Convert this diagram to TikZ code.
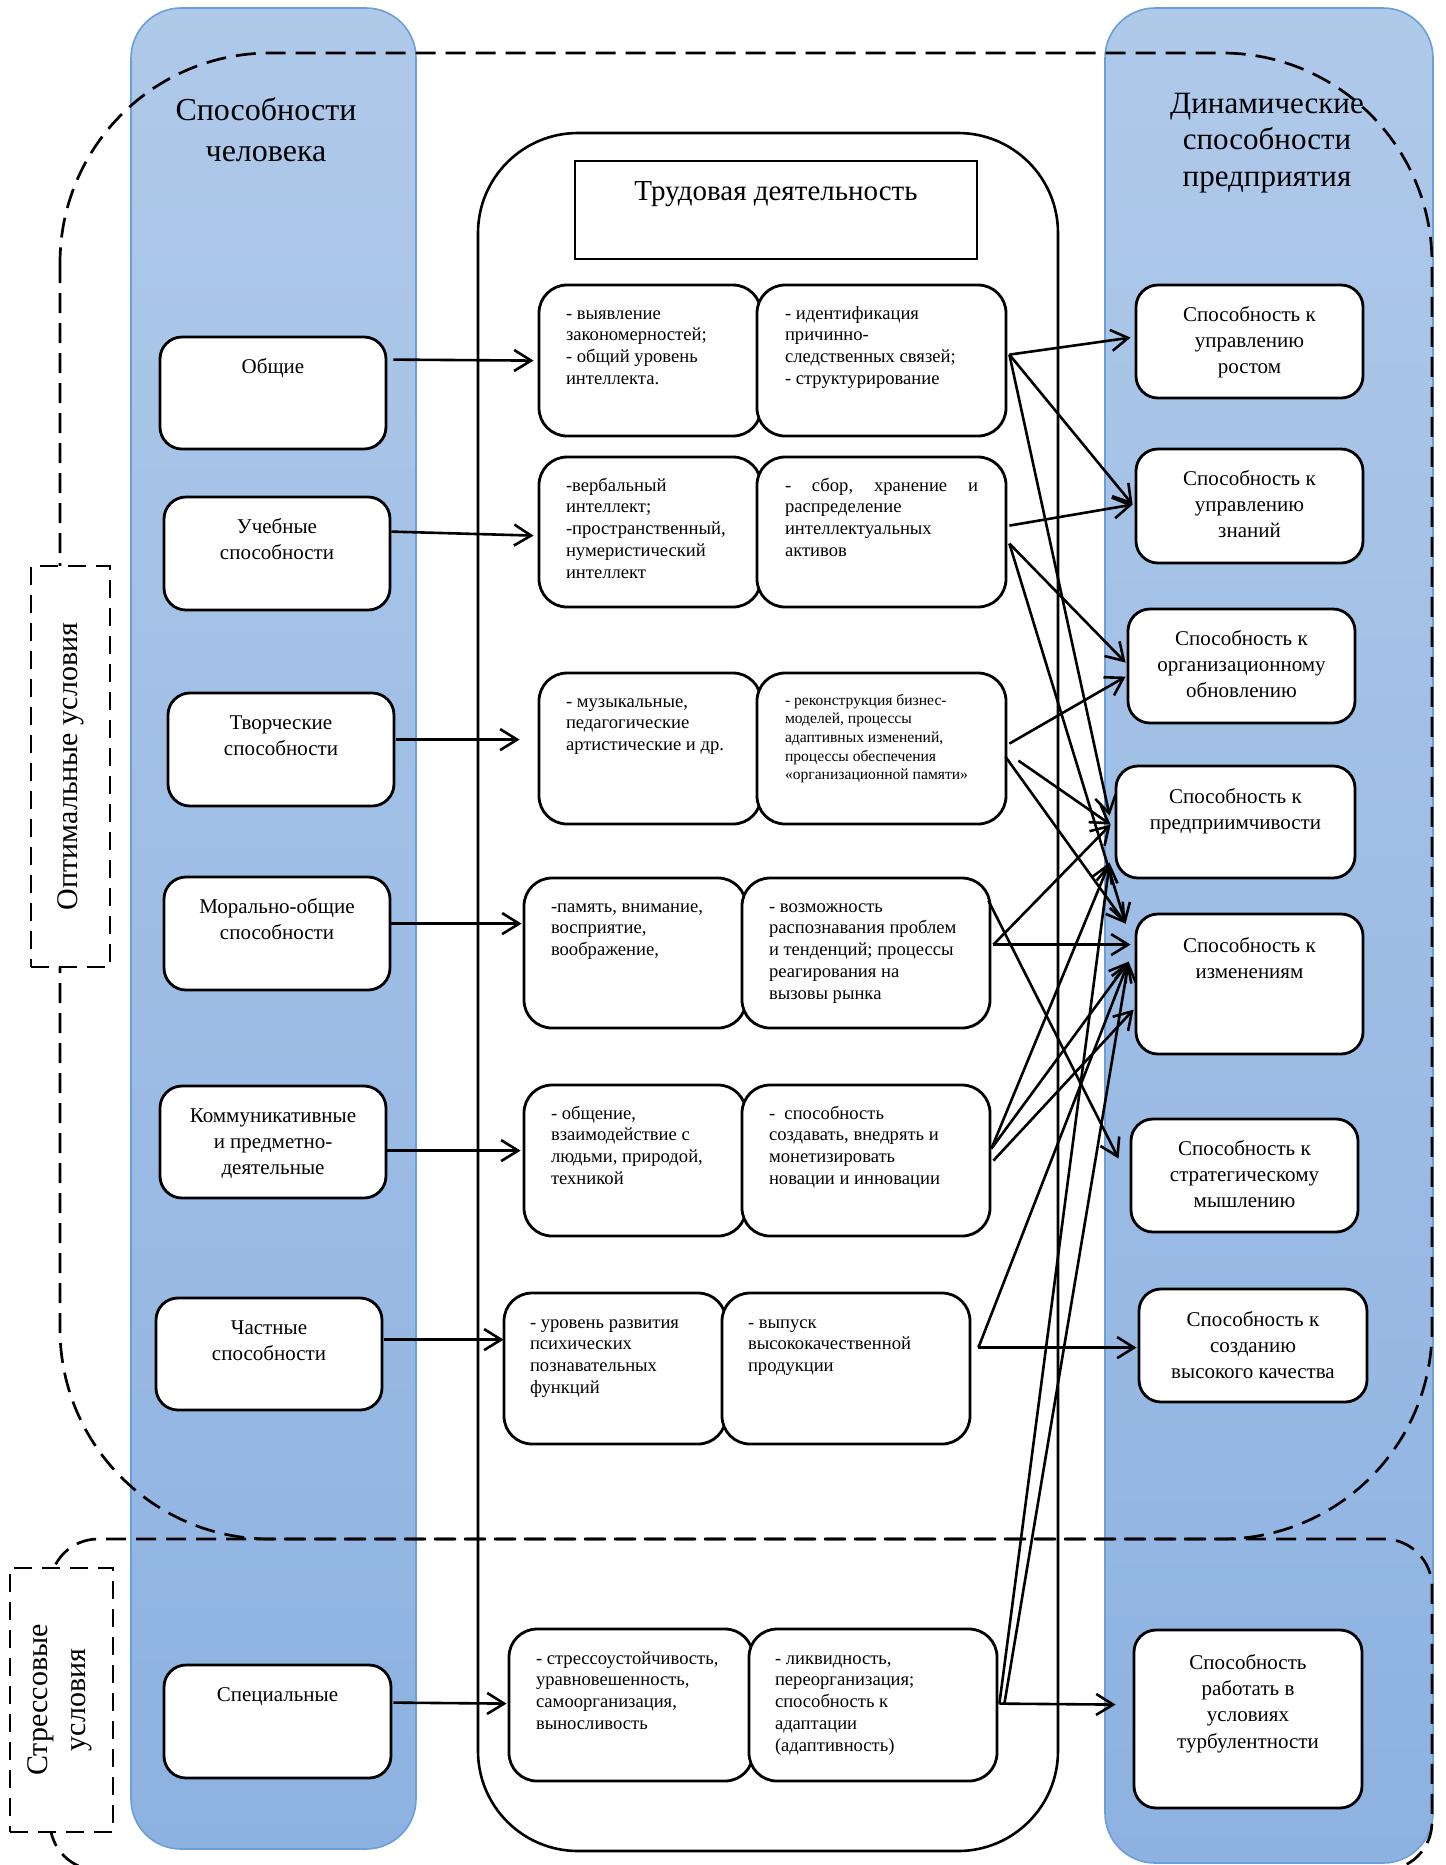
\documentclass[tikz,border=0pt]{standalone}
\usepackage{fontspec}
\setmainfont{Liberation Serif}
\usetikzlibrary{arrows.meta,calc,fit}

\definecolor{colTop}{HTML}{AFC9E9}
\definecolor{colBot}{HTML}{8DB2E1}
\definecolor{colEdge}{HTML}{6A9FD8}

% font sizes
\newcommand{\fLbl}{\fontsize{10.5}{13.2}\selectfont}
\newcommand{\fItm}{\fontsize{9.3}{10.9}\selectfont}
\newcommand{\fSml}{\fontsize{7.8}{9.35}\selectfont}
\newcommand{\fHdr}{\fontsize{16}{20.5}\selectfont}
\newcommand{\fDyn}{\fontsize{15.5}{18.3}\selectfont}
\newcommand{\fTrud}{\fontsize{14.5}{17}\selectfont}
\newcommand{\fCond}{\fontsize{15}{19}\selectfont}

% text blocks whose baseline is the first line
\newcommand{\ctr}[2]{\parbox[t]{#1}{\centering #2}}
\newcommand{\lft}[2]{\parbox[t]{#1}{\raggedright #2}}

\begin{document}
\begin{tikzpicture}[x=0.5pt,y=-0.5pt,
  column/.style={top color=colTop, bottom color=colBot, draw=colEdge, line width=0.8pt,
                 rounded corners=25pt, inner sep=0pt},
  capbox/.style={draw, fill=white, line width=1.4pt, rounded corners=11pt, inner sep=0pt},
  itembox/.style={draw, fill=white, line width=1.4pt, rounded corners=14pt, inner sep=0pt},
  condline/.style={line width=1.35pt, dash pattern=on 10pt off 5pt},
  condbox/.style={draw, fill=white, line width=1.35pt, dash pattern=on 9pt off 5pt, inner sep=0pt},
  captext/.style={anchor=base, inner sep=0pt, font=\fLbl, yshift=-1.2pt},
  itext/.style={anchor=base west, inner sep=0pt, font=\fItm, yshift=-1.2pt},
  conn/.style={line width=1.3pt, -{Straight Barb[length=8.5pt,width=10.5pt]}}]

\useasboundingbox (0,0) rectangle (1446,1865);

% ---------- the two blue columns ----------
\node[column, fit={(131,8) (416,1849)}] (humancol) {};
\node[column, fit={(1105,8) (1433,1863)}] (firmcol) {};
\node[anchor=base, inner sep=0pt, font=\fHdr] at (266,120) {\ctr{150pt}{Способности\\человека}};
\node[anchor=base, inner sep=0pt, font=\fDyn] at (1267,113) {\ctr{150pt}{Динамические\\способности\\предприятия}};

% ---------- labour activity container ----------
\node[draw, line width=1.3pt, rounded corners=50pt, inner sep=0pt, fit={(478,133) (1058,1851)}] (work) {};
\node[draw, line width=1.3pt, inner sep=0pt, fit={(575,161) (977,259)}] (workhead) {};
\node[anchor=base, inner sep=0pt, font=\fTrud] at ($(workhead.north)+(0,41)$) {Трудовая деятельность};

% ---------- condition regions ----------
\draw[condline, rounded corners=105pt] (60,53) rectangle (1432,1539);
\draw[condline, rounded corners=24pt] (50,1539) rectangle (1432,1870);
\node[condbox, fit={(31,566) (110,967)}] (optlabel) {};
\node[rotate=90, inner sep=0pt, font=\fCond] at (optlabel.center) {Оптимальные условия};
\node[condbox, fit={(10,1568) (113,1832)}] (strlabel) {};
\node[rotate=90, inner sep=0pt, font=\fCond, align=center] at ($(strlabel.center)+(-2,0)$) {Стрессовые\\условия};

% ---------- human abilities ----------
\node[capbox, fit={(160,337) (386,449)}] (g1) {};
\node[captext] at ($(g1.north)+(0,35)$) {Общие};
\node[capbox, fit={(164,497) (390,610)}] (g2) {};
\node[captext] at ($(g2.north)+(0,35)$) {\ctr{110pt}{Учебные\\способности}};
\node[capbox, fit={(168,693) (394,806)}] (g3) {};
\node[captext] at ($(g3.north)+(0,35)$) {\ctr{110pt}{Творческие\\способности}};
\node[capbox, fit={(164,877) (390,990)}] (g4) {};
\node[captext] at ($(g4.north)+(0,35)$) {\ctr{110pt}{Морально-общие\\способности}};
\node[capbox, fit={(160,1086) (386,1198)}] (g5) {};
\node[captext] at ($(g5.north)+(0,35)$) {\ctr{110pt}{Коммуникативные\\и предметно-\\деятельные}};
\node[capbox, fit={(156,1298) (382,1410)}] (g6) {};
\node[captext] at ($(g6.north)+(0,35)$) {\ctr{110pt}{Частные\\способности}};
\node[capbox, fit={(164,1665) (391,1778)}] (g7) {};
\node[captext] at ($(g7.north)+(0,35)$) {Специальные};

% ---------- labour activity rows ----------
\node[itembox, fit={(539,285) (761,436)}] (m1l) {};
\node[itembox, fit={(757,285) (1006,436)}] (m1r) {};
\node[itext] at ($(m1l.north west)+(28,33)$) {\lft{105pt}{- выявление\\закономерностей;\\- общий уровень\\интеллекта.}};
\node[itext] at ($(m1r.north west)+(29,33)$) {\lft{105pt}{- идентификация\\причинно-\\следственных связей;\\- структурирование}};

\node[itembox, fit={(539,457) (761,607)}] (m2l) {};
\node[itembox, fit={(757,457) (1006,607)}] (m2r) {};
\node[itext] at ($(m2l.north west)+(28,33)$) {\lft{105pt}{-вербальный\\интеллект;\\-пространственный,\\нумеристический\\интеллект}};
\node[itext] at ($(m2r.north west)+(29,33)$) {\lft{96.5pt}{-\hfill сбор,\hfill хранение\hfill и\\распределение\\интеллектуальных\\активов}};

\node[itembox, fit={(539,673) (761,824)}] (m3l) {};
\node[itembox, fit={(757,673) (1006,824)}] (m3r) {};
\node[itext] at ($(m3l.north west)+(28,33)$) {\lft{105pt}{- музыкальные,\\педагогические\\артистические и др.}};
\node[itext, font=\fSml] at ($(m3r.north west)+(29,31)$) {\lft{105pt}{- реконструкция бизнес-\\моделей, процессы\\адаптивных изменений,\\процессы обеспечения\\«организационной памяти»}};

\node[itembox, fit={(524,878) (746,1028)}] (m4l) {};
\node[itembox, fit={(742,878) (990,1028)}] (m4r) {};
\node[itext] at ($(m4l.north west)+(28,33)$) {\lft{105pt}{-память, внимание,\\восприятие,\\воображение,}};
\node[itext] at ($(m4r.north west)+(28,33)$) {\lft{105pt}{- возможность\\распознавания проблем\\и тенденций; процессы\\реагирования на\\вызовы рынка}};

\node[itembox, fit={(524,1085) (746,1236)}] (m5l) {};
\node[itembox, fit={(742,1085) (990,1236)}] (m5r) {};
\node[itext] at ($(m5l.north west)+(28,33)$) {\lft{105pt}{- общение,\\взаимодействие с\\людьми, природой,\\техникой}};
\node[itext] at ($(m5r.north west)+(28,33)$) {\lft{105pt}{-\ \ способность\\создавать, внедрять и\\монетизировать\\новации и инновации}};

\node[itembox, fit={(504,1293) (726,1444)}] (m6l) {};
\node[itembox, fit={(722,1293) (970,1444)}] (m6r) {};
\node[itext] at ($(m6l.north west)+(27,34)$) {\lft{105pt}{- уровень развития\\психических\\познавательных\\функций}};
\node[itext] at ($(m6r.north west)+(27,34)$) {\lft{105pt}{- выпуск\\высококачественной\\продукции}};

\node[itembox, fit={(509,1629) (753,1781)}] (m7l) {};
\node[itembox, fit={(749,1629) (997,1781)}] (m7r) {};
\node[itext] at ($(m7l.north west)+(28,34)$) {\lft{110pt}{- стрессоустойчивость,\\уравновешенность,\\самоорганизация,\\выносливость}};
\node[itext] at ($(m7r.north west)+(27,34)$) {\lft{105pt}{- ликвидность,\\переорганизация;\\способность к\\адаптации\\(адаптивность)}};

% ---------- dynamic capabilities ----------
\node[capbox, fit={(1136,285) (1363,398)}] (d1) {};
\node[captext] at ($(d1.north)+(0,35)$) {\ctr{112pt}{Способность к\\управлению\\ростом}};
\node[capbox, fit={(1136,449) (1363,563)}] (d2) {};
\node[captext] at ($(d2.north)+(0,35)$) {\ctr{112pt}{Способность к\\управлению\\знаний}};
\node[capbox, fit={(1128,609) (1355,723)}] (d3) {};
\node[captext] at ($(d3.north)+(0,35)$) {\ctr{112pt}{Способность к\\организационному\\обновлению}};
\node[capbox, fit={(1116,766) (1355,878)}] (d4) {};
\node[captext] at ($(d4.north)+(0,36)$) {\ctr{118pt}{Способность к\\предприимчивости}};
\node[capbox, fit={(1136,914) (1363,1054)}] (d5) {};
\node[captext] at ($(d5.north)+(0,37)$) {\ctr{112pt}{Способность к\\изменениям}};
\node[capbox, fit={(1131,1119) (1358,1232)}] (d6) {};
\node[captext] at ($(d6.north)+(0,35)$) {\ctr{112pt}{Способность к\\стратегическому\\мышлению}};
\node[capbox, fit={(1139,1289) (1367,1402)}] (d7) {};
\node[captext] at ($(d7.north)+(0,36)$) {\ctr{112pt}{Способность к\\созданию\\высокого качества}};
\node[capbox, fit={(1134,1630) (1362,1808)}] (d8) {};
\node[captext] at ($(d8.north)+(0,38)$) {\ctr{112pt}{Способность\\работать в\\условиях\\турбулентности}};

% ---------- abilities -> activity ----------
\draw[conn] ($(g1.north east)+(6,24)$) -- ($(m1l.north west)+(-4,77)$);
\draw[conn] ($(g2.north east)+(0,36)$) -- ($(m2l.north west)+(-4,80)$);
\draw[conn] ($(g3.north east)+(1,48)$) -- ($(m3l.north west)+(-18,68)$);
\draw[conn] ($(g4.north east)+(0,48)$) -- ($(m4l.north west)+(-1,47)$);
\draw[conn] ($(g5.north east)+(0,66)$) -- ($(m5l.north west)+(-2,67)$);
\draw[conn] ($(g6.north east)+(1,43)$) -- ($(m6l.north west)+(1,48)$);
\draw[conn] ($(g7.north east)+(1,39)$) -- ($(m7l.north west)+(-1,76)$);

% ---------- activity -> capabilities ----------
\coordinate (p1)  at ($(m1r.north east)+(2,71)$);
\coordinate (p2a) at ($(m2r.north east)+(2,70)$);
\coordinate (p2b) at ($(m2r.north east)+(2,88)$);
\coordinate (p3a) at ($(m3r.north east)+(2,72)$);
\coordinate (p3b) at ($(m3r.north east)+(-2,85)$);
\coordinate (p3c) at ($(m3r.north east)+(11,89)$);
\coordinate (p4a) at ($(m4r.north east)+(-3,24)$);
\coordinate (p4b) at ($(m4r.north east)+(2,68)$);
\coordinate (p5a) at ($(m5r.north east)+(0,65)$);
\coordinate (p5b) at ($(m5r.north east)+(2,77)$);
\coordinate (p6)  at ($(m6r.north east)+(7,56)$);
\coordinate (p7a) at ($(m7r.north east)+(1,76)$);
\coordinate (p7b) at ($(m7r.north east)+(6,76)$);

\coordinate (t1)  at ($(d1.north west)+(-4,54)$);
\coordinate (t2)  at ($(d2.north west)+(-2,57)$);
\coordinate (t3a) at ($(d3.north west)+(-1,55)$);
\coordinate (t3b) at ($(d3.north west)+(-1,69)$);
\coordinate (t4a) at ($(d4.north west)+(-5,51)$);
\coordinate (t4b) at ($(d4.north west)+(-4,60)$);
\coordinate (t4c) at ($(d4.north west)+(-5,98)$);
\coordinate (t5a) at ($(d5.north west)+(-9,11)$);
\coordinate (t5b) at ($(d5.north west)+(-4,32)$);
\coordinate (t5c) at ($(d5.north west)+(-6,49)$);
\coordinate (t5d) at ($(d5.north west)+(-1,97)$);
\coordinate (t6)  at ($(d6.north west)+(-11,41)$);
\coordinate (t7)  at ($(d7.north west)+(-1,60)$);
\coordinate (t8)  at ($(d8.north west)+(-17,76)$);

\draw[conn] (p1) -- (t1);
\draw[conn] (p1) -- (t2);
\draw[conn] (p1) -- (t4a);
\draw[conn] (p2a) -- (t2);
\draw[conn] (p2b) -- (t3a);
\draw[conn] (p2b) -- (t5a);
\draw[conn] (p3a) -- (t3b);
\draw[conn] (p3b) -- (t5a);
\draw[conn] (p3c) -- (t4b);
\draw[conn] (p4a) -- (t6);
\draw[conn] (p4b) -- (t4b);
\draw[conn] (p4b) -- (t5b);
\draw[conn] (p5a) -- (t4c);
\draw[conn] (p5a) -- (t5c);
\draw[conn] (p5b) -- (t5d);
\draw[conn] (p6) -- (t5c);
\draw[conn] (p6) -- (t7);
\draw[conn] (p7a) -- (t4c);
\draw[conn] (p7b) -- (t5c);
\draw[conn] (p7a) -- (t8);

\end{tikzpicture}
\end{document}
